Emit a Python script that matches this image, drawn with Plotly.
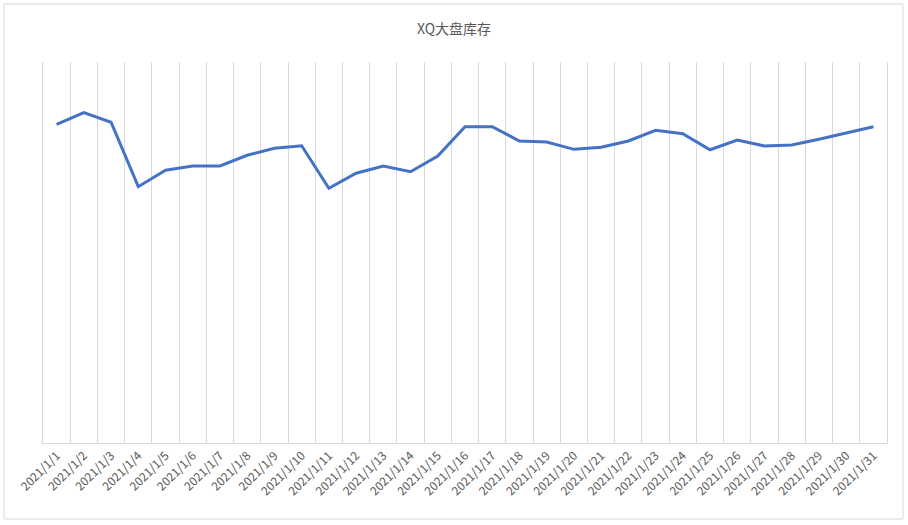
import plotly.graph_objects as go

dates = [f"2021/1/{d}" for d in range(1, 32)]
inventory = [334.6, 346.8, 336.7, 269.1, 286.3, 290.8, 290.8, 302.1, 309.4, 312.1,
             267.4, 283.2, 290.8, 284.8, 301.3, 332.1, 332.1, 317.1, 316.0, 308.3,
             310.5, 317.1, 328.3, 324.7, 307.9, 318.1, 311.8, 312.9, 318.9, 325.8, 332.1]
title_text = "XQ大盘库存"

L, R, T, B = 43, 21, 62, 82
W, H = 908, 525
pw, ph = W - L - R, H - T - B

fig = go.Figure()
fig.add_trace(go.Scatter(x=dates, y=inventory, mode="lines",
                         line=dict(color="#4472C4", width=3), hoverinfo="x+y"))

fig.update_layout(
    width=W, height=H,
    margin=dict(l=L, r=R, t=T, b=B, autoexpand=False),
    paper_bgcolor="white", plot_bgcolor="white",
    showlegend=False,
    font=dict(family="Noto Sans CJK SC, Noto Sans, sans-serif", color="#595959"),
    title=dict(text=title_text, x=0.5, xref="container", xanchor="center",
               y=1 - 29 / H, yref="container", yanchor="middle",
               font=dict(size=14, color="#595959")),
    xaxis=dict(type="category", range=[-0.5, 30.5], tickson="boundaries",
               showgrid=True, gridcolor="#d9d9d9", gridwidth=1,
               showline=True, linecolor="#d9d9d9", linewidth=1,
               ticks="", tickangle=-45, tickfont=dict(size=12, color="#595959"),
               zeroline=False, automargin=False),
    yaxis=dict(range=[0, 400], showgrid=False, showticklabels=False,
               zeroline=False, showline=True, mirror=True, linecolor="#d9d9d9",
               linewidth=1, ticks="", automargin=False),
)

fig.add_shape(type="rect", xref="paper", yref="paper",
              x0=(4 - L) / pw, x1=(903 - L) / pw,
              y0=(H - B - 519) / ph, y1=(H - B - 4) / ph,
              line=dict(color="#d9d9d9", width=1), fillcolor="rgba(0,0,0,0)",
              layer="below")

fig.write_html("out.html", config={"displayModeBar": False},
               post_script="document.body.style.margin='0';document.body.style.overflow='hidden';")
